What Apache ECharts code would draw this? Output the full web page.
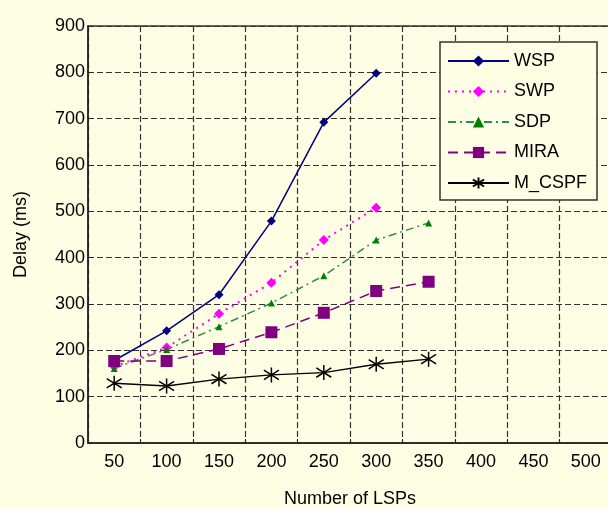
<!DOCTYPE html>
<html>
<head>
<meta charset="utf-8">
<script src="https://cdn.jsdelivr.net/npm/echarts@6/dist/echarts.min.js"></script>
<style>
html,body{margin:0;padding:0;background:#FEFEE4;}
#c{width:608px;height:509px;}
</style>
</head>
<body>
<div id="c"></div>
<script>
var categories = ['50','100','150','200','250','300','350','400','450','500'];
var wsp   = [178, 242, 320, 479, 692, 798];
var swp   = [165, 206, 279, 346, 438, 508];
var sdp   = [161, 202, 251, 302, 361, 438, 475];
var mira  = [177, 177, 203, 239, 281, 328, 348];
var mcspf = [129, 123, 138, 147, 152, 170, 181];
var yTicks = {min: 0, max: 900, interval: 100};

var FONT = 'Liberation Sans, Arial, sans-serif';
var asterisk = 'path://M8 0 L8 16 M1 3 L15 13 M15 3 L1 13';

var chart = echarts.init(document.getElementById('c'), null, {renderer: 'canvas'});
chart.setOption({
  backgroundColor: '#FEFEE4',
  animation: false,
  textStyle: {fontFamily: FONT, color: '#000'},
  grid: {left: 88, right: -4, top: 26, bottom: 66, outerBoundsMode: 'none', containLabel: false,
         show: true, borderColor: '#333', borderWidth: 1.5, backgroundColor: '#FEFEE4'},
  legend: {
    orient: 'vertical', left: 440, top: 42,
    padding: [10, 10, 8, 7],
    itemWidth: 61, itemHeight: 14, itemGap: 12.5,
    borderColor: '#333', borderWidth: 1.5,
    backgroundColor: '#FEFEE4',
    textStyle: {fontFamily: FONT, fontSize: 18, color: '#000'},
    data: ['WSP','SWP','SDP','MIRA','M_CSPF']
  },
  xAxis: {
    type: 'category', data: categories, boundaryGap: true,
    name: 'Number of LSPs', nameLocation: 'middle', nameGap: 47,
    nameTextStyle: {fontFamily: FONT, fontSize: 18, color: '#000'},
    axisLine: {lineStyle: {color: '#222', width: 1.5}},
    axisTick: {show: true, inside: true, length: 4, lineStyle: {color: '#222'}},
    axisLabel: {fontFamily: FONT, fontSize: 18, color: '#000', margin: 10},
    splitLine: {show: true, lineStyle: {color: '#333', type: [6,3], width: 1.2}}
  },
  yAxis: {
    type: 'value', min: yTicks.min, max: yTicks.max, interval: yTicks.interval,
    name: 'Delay (ms)', nameLocation: 'middle', nameGap: 58,
    nameTextStyle: {fontFamily: FONT, fontSize: 18, color: '#000'},
    axisLine: {show: true, lineStyle: {color: '#222', width: 1.5}},
    axisTick: {show: true, inside: true, length: 4, lineStyle: {color: '#222'}},
    axisLabel: {fontFamily: FONT, fontSize: 18, color: '#000', margin: 3},
    splitLine: {show: true, lineStyle: {color: '#333', type: [6,3], width: 1.2}}
  },
  series: [
    {name: 'WSP', type: 'line', data: wsp, symbol: 'diamond', symbolSize: 9,
     lineStyle: {color: '#000080', width: 1.5, type: 'solid'}, itemStyle: {color: '#000080'}},
    {name: 'SWP', type: 'line', data: swp, symbol: 'diamond', symbolSize: 10,
     lineStyle: {color: '#FF00FF', width: 2, type: [2,5]}, itemStyle: {color: '#FF00FF'}},
    {name: 'SDP', type: 'line', data: sdp, symbol: 'triangle', symbolSize: 7,
     lineStyle: {color: '#2E8B57', width: 1.5, type: [8,4,2,4]}, itemStyle: {color: '#008000'}},
    {name: 'MIRA', type: 'line', data: mira, symbol: 'rect', symbolSize: 12,
     lineStyle: {color: '#800080', width: 1.5, type: [10,6]}, itemStyle: {color: '#800080'}},
    {name: 'M_CSPF', type: 'line', data: mcspf, symbol: asterisk, symbolSize: [15, 15],
     lineStyle: {color: '#000', width: 1.3, type: 'solid'},
     itemStyle: {color: 'none', borderColor: '#000', borderWidth: 1.5}}
  ].map(function(s){ s.emphasis = {disabled: true}; s.z = 3; return s; })
});
</script>
</body>
</html>
